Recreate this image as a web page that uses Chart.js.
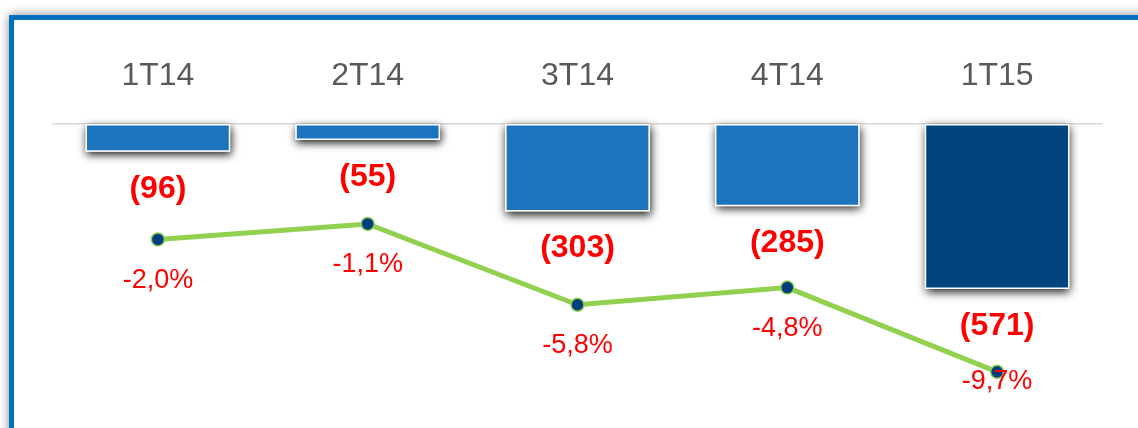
<!DOCTYPE html>
<html>
<head>
<meta charset="utf-8">
<script src="https://cdn.jsdelivr.net/npm/chart.js@4/dist/chart.umd.min.js"></script>
<style>
  html, body { margin: 0; padding: 0; background: #fff; overflow: hidden; }
  #wrap { position: relative; width: 1138px; height: 428px; overflow: hidden; }
  #frame {
    position: absolute; left: 9px; top: 15px; width: 1200px; height: 500px;
    border-top: 5px solid #0070C0; border-left: 5px solid #0070C0;
    background: #fff; box-shadow: 0 0 10px rgba(0, 0, 0, 0.45);
  }
  #chart { position: absolute; left: 0; top: 0; }
</style>
</head>
<body>
<div id="wrap">
  <div id="frame"></div>
  <canvas id="chart" width="1138" height="428"></canvas>
</div>
<script>
var quarters = ["1T14", "2T14", "3T14", "4T14", "1T15"];
var results = [-96, -55, -303, -285, -571];
var margins = [-2.0, -1.1, -5.8, -4.8, -9.7];
var barColors = ["#1C75BC", "#1C75BC", "#1C75BC", "#1C75BC", "#00457D"];

var barShadow = {
  id: "barShadow",
  beforeDatasetDraw: function (chart, args) {
    if (args.meta.type !== "bar") return;
    var ctx = chart.ctx;
    ctx.save();
    ctx.shadowColor = "rgba(0,0,0,0.9)";
    ctx.shadowBlur = 9;
    ctx.shadowOffsetX = 1;
    ctx.shadowOffsetY = 3;
    ctx.fillStyle = "#fff";
    args.meta.data.forEach(function (bar) {
      var w = bar.width;
      ctx.fillRect(bar.x - w / 2, bar.base, w, bar.y - bar.base);
    });
    ctx.restore();
  },
};

var valueLabels = {
  id: "valueLabels",
  afterDatasetsDraw: function (chart) {
    var ctx = chart.ctx;
    var bottom = chart.chartArea.bottom;
    ctx.save();
    ctx.fillStyle = "#FF0000";
    ctx.textAlign = "center";
    ctx.textBaseline = "middle";
    chart.getDatasetMeta(0).data.forEach(function (bar, i) {
      ctx.font = "bold 32px 'Liberation Sans', Arial, sans-serif";
      ctx.fillText("(" + Math.abs(results[i]) + ")", bar.x, bar.y + 37);
    });
    chart.getDatasetMeta(1).data.forEach(function (pt, i) {
      ctx.font = "27px 'Liberation Sans', Arial, sans-serif";
      var y = Math.min(pt.y + 41, bottom - 38);
      ctx.fillText(margins[i].toFixed(1).replace(".", ",") + "%", pt.x, y);
    });
    ctx.restore();
  },
};

var chart = new Chart(document.getElementById("chart"), {
  data: {
    labels: quarters,
    datasets: [
      {
        type: "bar",
        data: results,
        backgroundColor: barColors,
        borderColor: "#ffffff",
        borderWidth: 1.5,
        borderSkipped: false,
        barPercentage: 0.69,
        categoryPercentage: 1,
        yAxisID: "y",
        order: 1,
      },
      {
        type: "line",
        data: margins,
        borderColor: "#92D050",
        borderWidth: 5,
        pointRadius: 6.5,
        pointBackgroundColor: "#003E7E",
        pointBorderColor: "#92D050",
        pointBorderWidth: 1.5,
        tension: 0,
        yAxisID: "y2",
        order: 0,
      },
    ],
  },
  options: {
    responsive: false,
    animation: false,
    layout: {
      padding: { left: 53, right: 36, top: 0, bottom: 8 },
    },
    scales: {
      x: {
        position: "top",
        grid: { display: false, drawTicks: false },
        border: { display: true, color: "#D9D9D9", width: 1.5 },
        ticks: {
          color: "#595959",
          padding: 29,
          font: { family: "'Liberation Sans', Arial, sans-serif", size: 32 },
        },
        afterFit: function (scale) {
          scale.height = 124;
        },
      },
      y: {
        display: false,
        min: -1025,
        max: 0,
      },
      y2: {
        display: false,
        min: -12.5,
        max: 4.71,
      },
    },
    plugins: {
      legend: { display: false },
      tooltip: { enabled: false },
    },
  },
  plugins: [barShadow, valueLabels],
});
</script>
</body>
</html>
